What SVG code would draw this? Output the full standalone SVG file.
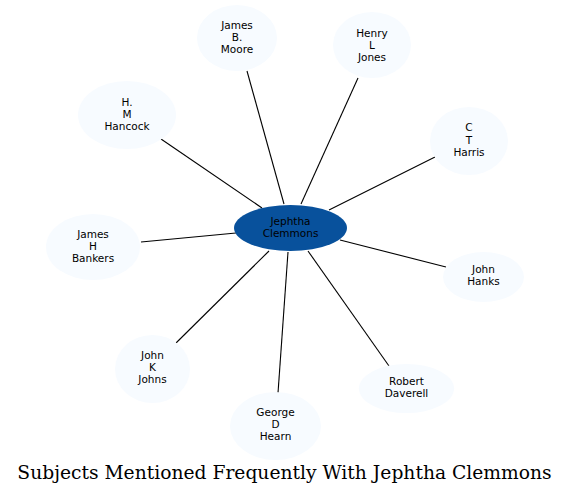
<svg xmlns="http://www.w3.org/2000/svg" width="569" height="495" viewBox="0 0 569 495">
<style>
.n ellipse{fill:#f7fbff;stroke:none}
.c ellipse{fill:#08519c;stroke:none}
text{font-family:"DejaVu Sans",sans-serif;font-size:10.5px;text-anchor:middle;fill:#000}
.t{font-family:"DejaVu Serif",serif;font-size:18.7px}
#edges line{stroke:#000;stroke-width:1.1}
</style>
<rect width="569" height="495" fill="#fff"/>
<g id="edges">
<line x1="284" y1="204" x2="247" y2="71"/>
<line x1="301" y1="204" x2="358" y2="78"/>
<line x1="262" y1="208" x2="161" y2="139"/>
<line x1="329" y1="210" x2="435" y2="157"/>
<line x1="236" y1="233" x2="141" y2="242"/>
<line x1="340" y1="240" x2="446" y2="267"/>
<line x1="269" y1="251" x2="176" y2="343"/>
<line x1="288" y1="252" x2="278" y2="393"/>
<line x1="308" y1="251" x2="389" y2="366"/>
</g>
<g id="moore" class="n"><ellipse cx="237" cy="38" rx="40" ry="33"/><text x="237" y="29">James</text><text x="237" y="41">B.</text><text x="237" y="53">Moore</text></g>
<g id="jones" class="n"><ellipse cx="372" cy="45" rx="39" ry="33"/><text x="372" y="37">Henry</text><text x="372" y="49">L</text><text x="372" y="61">Jones</text></g>
<g id="hancock" class="n"><ellipse cx="127" cy="115" rx="49" ry="34"/><text x="127" y="106">H.</text><text x="127" y="118">M</text><text x="127" y="130">Hancock</text></g>
<g id="harris" class="n"><ellipse cx="469" cy="141" rx="39" ry="34"/><text x="469" y="131">C</text><text x="469" y="143.5">T</text><text x="469" y="156">Harris</text></g>
<g id="bankers" class="n"><ellipse cx="93" cy="247" rx="47" ry="33"/><text x="93" y="238">James</text><text x="93" y="250">H</text><text x="93" y="262">Bankers</text></g>
<g id="hanks" class="n"><ellipse cx="483.5" cy="277" rx="40.5" ry="25"/><text x="483.5" y="273">John</text><text x="483.5" y="285">Hanks</text></g>
<g id="johns" class="n"><ellipse cx="152.5" cy="369" rx="37.5" ry="34"/><text x="152.5" y="359">John</text><text x="152.5" y="371">K</text><text x="152.5" y="383">Johns</text></g>
<g id="hearn" class="n"><ellipse cx="275.5" cy="426" rx="45.5" ry="34"/><text x="275.5" y="416">George</text><text x="275.5" y="428">D</text><text x="275.5" y="440">Hearn</text></g>
<g id="daverell" class="n"><ellipse cx="406.5" cy="388.5" rx="47.5" ry="24.5"/><text x="406.5" y="385">Robert</text><text x="406.5" y="397">Daverell</text></g>
<g id="clemmons" class="c"><ellipse cx="290.5" cy="228" rx="56.5" ry="23"/><text x="290.5" y="224.5">Jephtha</text><text x="290.5" y="236.5">Clemmons</text></g>
<text class="t" x="284.5" y="479">Subjects Mentioned Frequently With Jephtha Clemmons</text>
</svg>
